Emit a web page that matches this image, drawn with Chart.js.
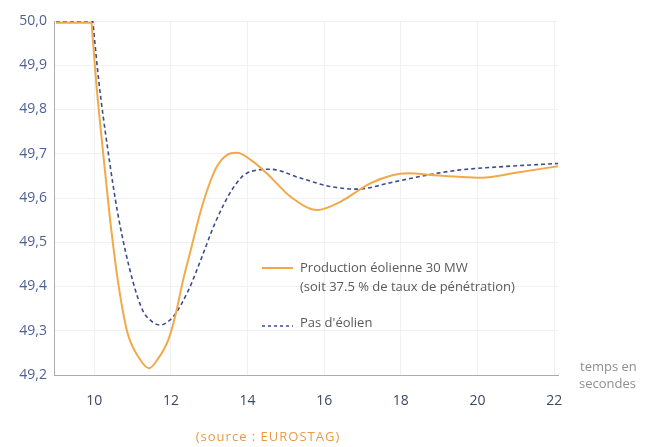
<!DOCTYPE html>
<html>
<head>
<meta charset="utf-8">
<script src="https://cdn.jsdelivr.net/npm/chart.js@4"></script>
<style>
  html, body { margin: 0; padding: 0; background: #fff; }
  canvas { display: block; }
</style>
</head>
<body>
<canvas id="chart" width="661" height="447"></canvas>
<script>
// frequency (Hz) over time (s)
const timeWind   = [9, 9.93, 9.95, 10.05, 10.22, 10.40, 10.62, 10.86, 11.15, 11.43, 11.65, 11.93, 12.11, 12.32, 12.54, 12.76, 12.98, 13.2, 13.46, 13.72, 14.1, 14.5, 15.12, 15.82, 16.43, 17.2, 17.8, 18.2, 18.8, 19.5, 20.1, 21.0, 22.1]
const freqWind   = [49.996, 49.996, 49.973, 49.863, 49.712, 49.562, 49.411, 49.298, 49.241, 49.215, 49.235, 49.279, 49.332, 49.415, 49.49, 49.565, 49.626, 49.671, 49.697, 49.702, 49.685, 49.656, 49.603, 49.573, 49.592, 49.633, 49.652, 49.656, 49.652, 49.648, 49.646, 49.657, 49.672]
const timeNoWind = [9, 9.96, 9.98, 10.12, 10.35, 10.62, 11.01, 11.27, 11.45, 11.71, 12.06, 12.46, 12.81, 13.15, 13.59, 13.98, 14.6, 15.38, 16.16, 16.86, 17.8, 18.7, 19.5, 20.5, 22.1]
const freqNoWind = [50.0, 50.0, 49.983, 49.863, 49.712, 49.562, 49.411, 49.345, 49.325, 49.313, 49.332, 49.392, 49.467, 49.543, 49.618, 49.656, 49.665, 49.645, 49.626, 49.62, 49.636, 49.652, 49.663, 49.67, 49.678]

const xTicks = [10, 12, 14, 16, 18, 20, 22]
const yTicks = [49.2, 49.3, 49.4, 49.5, 49.6, 49.7, 49.8, 49.9, 50.0]

const legendWind = ['Production éolienne 30 MW', '(soit 37.5 % de taux de pénétration)']
const legendNoWind = "Pas d'éolien"
const xTitle = ['temps en', 'secondes']
const sourceText = '(source : EUROSTAG)'

const ORANGE = '#f2a94a'
const BLUE = '#3c4c8f'

const toPoints = (xs, ys) => xs.map((x, i) => ({ x: x, y: ys[i] }))

// legend, axis caption and source line
const annotations = {
  id: 'annotations',
  afterDraw(chart) {
    const ctx = chart.ctx
    const area = chart.chartArea
    ctx.save()

    const lx = area.left + 208
    ctx.font = '13px "Open Sans", sans-serif'
    ctx.fillStyle = '#5a5a5a'
    ctx.textBaseline = 'middle'
    ctx.textAlign = 'left'

    ctx.strokeStyle = ORANGE
    ctx.lineWidth = 2
    ctx.beginPath()
    ctx.moveTo(lx, area.top + 247)
    ctx.lineTo(lx + 31, area.top + 247)
    ctx.stroke()
    ctx.fillText(legendWind[0], lx + 38, area.top + 247)
    ctx.fillText(legendWind[1], lx + 38, area.top + 266)

    ctx.strokeStyle = BLUE
    ctx.lineWidth = 1.5
    ctx.setLineDash([3, 3])
    ctx.beginPath()
    ctx.moveTo(lx, area.top + 305)
    ctx.lineTo(lx + 31, area.top + 305)
    ctx.stroke()
    ctx.setLineDash([])
    ctx.fillText(legendNoWind, lx + 38, area.top + 302)

    ctx.fillStyle = '#8f8f8f'
    ctx.fillText(xTitle[0], area.right + 22, area.bottom - 8)
    ctx.fillText(xTitle[1], area.right + 21, area.bottom + 9)

    ctx.fillStyle = '#e99a45'
    ctx.textAlign = 'center'
    if ('letterSpacing' in ctx) ctx.letterSpacing = '1px'
    ctx.fillText(sourceText, 268, 437)
    ctx.restore()
  }
}

new Chart(document.getElementById('chart'), {
  type: 'line',
  data: {
    datasets: [
      {
        label: legendWind.join(' '),
        data: toPoints(timeWind, freqWind),
        borderColor: ORANGE,
        borderWidth: 2,
        pointRadius: 0,
        cubicInterpolationMode: 'monotone',
        fill: false
      },
      {
        label: legendNoWind,
        data: toPoints(timeNoWind, freqNoWind),
        borderColor: BLUE,
        borderWidth: 1.6,
        borderDash: [4, 3],
        pointRadius: 0,
        cubicInterpolationMode: 'monotone',
        fill: false
      }
    ]
  },
  options: {
    responsive: false,
    animation: false,
    layout: { padding: { top: 21, right: 103, left: 0, bottom: 0 } },
    plugins: {
      legend: { display: false },
      tooltip: { enabled: false }
    },
    scales: {
      x: {
        type: 'linear',
        min: 8.95,
        max: 22.1,
        afterBuildTicks: (scale) => { scale.ticks = xTicks.map(v => ({ value: v })) },
        afterFit: (scale) => { scale.height = 72 },
        grid: { color: '#eef0f4', drawTicks: false },
        border: { color: '#a9abb0', width: 1 },
        ticks: {
          color: '#3b4a63',
          padding: 18,
          font: { family: '"Open Sans", sans-serif', size: 14 }
        }
      },
      y: {
        min: 49.2,
        max: 50.0,
        afterBuildTicks: (scale) => { scale.ticks = yTicks.map(v => ({ value: v })) },
        afterFit: (scale) => { scale.width = 54 },
        grid: { color: '#eef0f4', drawTicks: false },
        border: { color: '#a9abb0', width: 1 },
        ticks: {
          color: '#4d5f96',
          padding: 7,
          font: { family: '"Open Sans", sans-serif', size: 14 },
          callback: (v) => v.toFixed(1).replace('.', ',')
        }
      }
    }
  },
  plugins: [annotations]
})
</script>
</body>
</html>
